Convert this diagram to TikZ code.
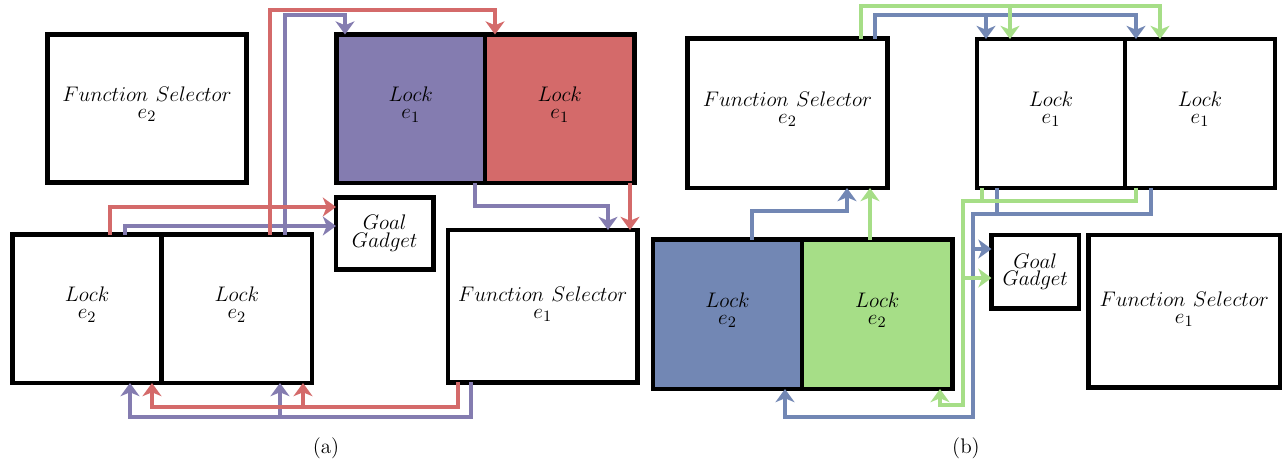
\documentclass[tikz,border=0pt]{standalone}
\usetikzlibrary{arrows.meta}
\definecolor{cred}{HTML}{D46A6A}
\definecolor{cpur}{HTML}{847CB0}
\definecolor{cblue}{HTML}{7287B4}
\definecolor{cgreen}{HTML}{A6DE87}
\tikzset{
  box/.style={draw=black, line width=2.8pt, rectangle, outer sep=0pt, inner sep=0pt,
    font=\fontsize{12.9}{9.8}\selectfont, align=center, text depth=6.5pt},
  fsone/.style={text depth=4pt},
  goalbox/.style={text depth=2.6pt},
  conn/.style={line width=2.2pt, line join=miter, -{Stealth[length=7.5pt,width=10.8pt,inset=2.2pt]}},
  seg/.style={line width=2.2pt, line join=miter},
  captext/.style={font=\fontsize{12}{14}\selectfont, inner sep=0pt}
}
\begin{document}
\begin{tikzpicture}[x=0.02cm, y=-0.02cm]
\useasboundingbox (0,0) rectangle (1286,468);
% ---------- panel (a) ----------
\node[box, minimum width=3.98cm, minimum height=2.96cm] (fsA2) at (147,108.5) {$Function\ Selector$\\$e_2$};
\node[box, fill=cpur, minimum width=2.97cm, minimum height=2.97cm] (lockA1p) at (410.75,108.75) {$Lock$\\$e_1$};
\node[box, fill=cred, minimum width=2.99cm, minimum height=2.97cm] (lockA1r) at (559.75,108.75) {$Lock$\\$e_1$};
\node[box, goalbox, minimum width=1.95cm, minimum height=1.44cm] (goalA) at (384.75,233.5) {$Goal$\\$Gadget$};
\node[box, fsone, minimum width=3.79cm, minimum height=3.05cm] (fsA1) at (542.75,306.25) {$Function\ Selector$\\$e_1$};
\node[box, minimum width=2.984cm, minimum height=2.97cm] (lockA2l) at (87.1,308.75) {$Lock$\\$e_2$};
\node[box, minimum width=3.006cm, minimum height=2.97cm] (lockA2r) at (236.85,308.75) {$Lock$\\$e_2$};
% purple connectors
\draw[conn, cpur] (125,0 |- lockA2l.north) |- (goalA.west |- 0,226);
\draw[conn, cpur] (285,0 |- lockA2r.north) -- (285,15) -| (345,0 |- lockA1p.north);
\draw[conn, cpur] (475,0 |- lockA1p.south) |- (608,206) -- (608,0 |- fsA1.north);
\draw[conn, cpur] (471,0 |- fsA1.south) |- (130,417) -- (130,0 |- lockA2l.south);
\draw[conn, cpur] (280,417) -- (280,0 |- lockA2r.south);
% red connectors
\draw[conn, cred] (110,0 |- lockA2l.north) |- (goalA.west |- 0,207);
\draw[conn, cred] (270,0 |- lockA2r.north) -- (270,10) -| (495,0 |- lockA1r.north);
\draw[conn, cred] (630,0 |- lockA1r.south) -- (630,0 |- fsA1.north);
\draw[conn, cred] (458,0 |- fsA1.south) |- (152,407) -- (152,0 |- lockA2l.south);
\draw[conn, cred] (303,407) -- (303,0 |- lockA2r.south);
\node[captext] (capA) at (326,448) {(a)};
% ---------- panel (b) ----------
\node[box, minimum width=4cm, minimum height=2.99cm] (fsB2) at (787.5,113.25) {$Function\ Selector$\\$e_2$};
\node[box, minimum width=2.96cm, minimum height=2.98cm] (lockB1l) at (1051,113.5) {$Lock$\\$e_1$};
\node[box, minimum width=3cm, minimum height=2.98cm] (lockB1r) at (1200,113.5) {$Lock$\\$e_1$};
\node[box, fill=cblue, minimum width=2.98cm, minimum height=2.99cm] (lockB2l) at (727.5,314.25) {$Lock$\\$e_2$};
\node[box, fill=cgreen, minimum width=3.01cm, minimum height=2.99cm] (lockB2r) at (877.25,314.25) {$Lock$\\$e_2$};
\node[box, goalbox, minimum width=1.75cm, minimum height=1.47cm] (goalB) at (1035.25,271.75) {$Goal$\\$Gadget$};
\node[box, fsone, minimum width=3.83cm, minimum height=3.05cm] (fsB1) at (1184.25,311.25) {$Function\ Selector$\\$e_1$};
% blue connectors
\draw[conn, cblue] (752,0 |- lockB2l.north) |- (847,211) -- (847,0 |- fsB2.south);
\draw[conn, cblue] (875,0 |- fsB2.north) |- (1136,15) -- (1136,0 |- lockB1r.north);
\draw[conn, cblue] (986,15) -- (986,0 |- lockB1l.north);
\draw[seg, cblue] (997,0 |- lockB1l.south) -- (997,214);
\draw[conn, cblue] (1151,0 |- lockB1r.south) |- (973,214) -- (973,417) -| (785,0 |- lockB2l.south);
\draw[conn, cblue] (973,249) -- (goalB.west |- 0,249);
% green connectors
\draw[conn, cgreen] (870,0 |- lockB2r.north) -- (870,0 |- fsB2.south);
\draw[conn, cgreen] (861,0 |- fsB2.north) |- (1160,6) -- (1160,0 |- lockB1r.north);
\draw[conn, cgreen] (1010,6) -- (1010,0 |- lockB1l.north);
\draw[seg, cgreen] (982,0 |- lockB1l.south) -- (982,201);
\draw[conn, cgreen] (1136,0 |- lockB1r.south) |- (963,201) -- (963,405) -| (940,0 |- lockB2r.south);
\draw[conn, cgreen] (963,278) -- (goalB.west |- 0,278);
\node[captext] (capB) at (966,448) {(b)};
\end{tikzpicture}
\end{document}
